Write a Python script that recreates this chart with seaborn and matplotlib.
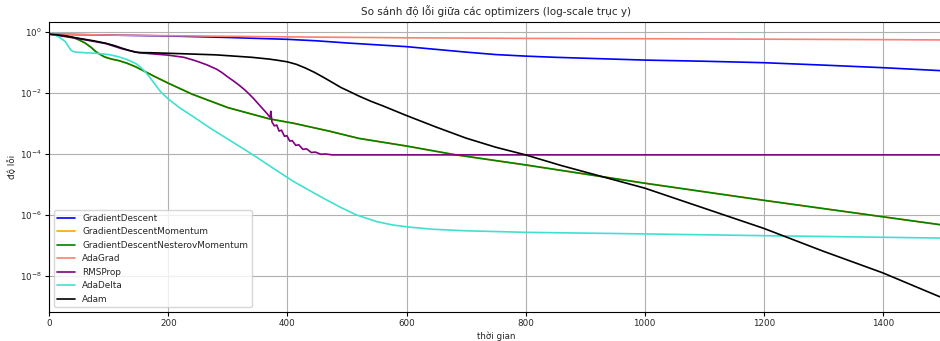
import numpy as np
import pandas as pd
import matplotlib
matplotlib.use("Agg")
import matplotlib.pyplot as plt
from matplotlib.ticker import NullLocator
import seaborn as sns

# Loss curves (error vs. time step) for each optimizer
gd_t = [0, 100, 200, 300, 350, 400, 450, 500, 550, 600, 650, 700, 750, 800, 850, 900,
        1000, 1100, 1200, 1300, 1400, 1500]
gd_loss = [0.851, 0.794, 0.741, 0.661, 0.617, 0.575, 0.513, 0.437, 0.380, 0.331, 0.269,
           0.219, 0.182, 0.162, 0.148, 0.138, 0.120, 0.110, 0.0985, 0.0822, 0.0676, 0.0537]

nesterov_t = [0, 20, 40, 50, 60, 70, 78, 85, 92, 98, 105, 110, 117, 130, 145, 160, 178,
              200, 240, 300, 370, 410, 470, 520, 600, 680, 800, 920, 1000, 1100, 1200,
              1300, 1400, 1500]
nesterov_loss = [0.851, 0.794, 0.661, 0.550, 0.437, 0.316, 0.229, 0.186, 0.155, 0.141,
                 0.129, 0.123, 0.115, 0.0955, 0.0724, 0.0513, 0.0339, 0.0209, 0.00912,
                 0.00331, 0.00141, 0.00102, 5.62e-4, 3.24e-4, 1.82e-4, 9.55e-5, 4.37e-5,
                 1.91e-5, 1.10e-5, 5.75e-6, 3.02e-6, 1.62e-6, 8.71e-7, 4.68e-7]

# Plain momentum follows the Nesterov curve
momentum_t = list(nesterov_t)
momentum_loss = list(nesterov_loss)

adagrad_t = [0, 100, 200, 400, 600, 800, 1000, 1200, 1400, 1500]
adagrad_loss = [0.851, 0.794, 0.759, 0.692, 0.646, 0.617, 0.603, 0.582, 0.562, 0.550]

rmsprop_t = [0, 50, 95, 122, 150, 175, 200, 226, 242, 254, 265, 281, 290, 298, 309, 318,
             326, 335, 343, 354, 365, 371, 372, 374, 378, 382, 386, 390, 395, 399, 404,
             408, 414, 419, 426, 432, 440, 447, 456, 464, 475, 500, 700, 1000, 1500]
rmsprop_loss = [0.851, 0.603, 0.417, 0.282, 0.209, 0.191, 0.174, 0.148, 0.120, 0.100,
                0.0832, 0.0603, 0.0468, 0.0355, 0.0251, 0.0186, 0.0138, 0.00955, 0.00661,
                0.00380, 0.00219, 0.00158, 0.00251, 0.00112, 8.32e-4, 8.91e-4, 5.62e-4,
                6.03e-4, 3.80e-4, 3.98e-4, 2.63e-4, 2.75e-4, 1.91e-4, 2.0e-4, 1.41e-4,
                1.48e-4, 1.12e-4, 1.15e-4, 9.77e-5, 1.0e-4, 9.33e-5, 9.33e-5, 9.33e-5,
                9.33e-5, 9.33e-5]

adadelta_t = [0, 8, 15, 22, 27, 32, 36, 40, 45, 60, 80, 100, 116, 130, 145, 153, 161, 168,
              175, 187, 200, 220, 242, 270, 298, 330, 354, 380, 410, 440, 466, 490, 516,
              550, 577, 605, 644, 700, 800, 957, 1200, 1500]
adadelta_loss = [0.851, 0.813, 0.708, 0.575, 0.479, 0.339, 0.257, 0.229, 0.219, 0.209,
                 0.200, 0.182, 0.155, 0.126, 0.0933, 0.0708, 0.0501, 0.0339, 0.0224,
                 0.0110, 0.00631, 0.00316, 0.00166, 7.08e-4, 3.24e-4, 1.32e-4, 6.61e-5,
                 3.02e-5, 1.26e-5, 5.89e-6, 3.09e-6, 1.74e-6, 1.0e-6, 6.03e-7, 4.68e-7,
                 3.98e-7, 3.39e-7, 3.02e-7, 2.69e-7, 2.45e-7, 2.09e-7, 1.74e-7]

adam_t = [0, 25, 50, 75, 95, 110, 122, 135, 145, 155, 170, 220, 280, 340, 370, 385, 400,
          415, 430, 445, 460, 475, 490, 505, 520, 540, 560, 600, 650, 700, 750, 800, 860,
          924, 1000, 1100, 1200, 1300, 1400, 1500]
adam_loss = [0.851, 0.759, 0.617, 0.513, 0.427, 0.355, 0.295, 0.245, 0.219, 0.211, 0.209,
             0.195, 0.178, 0.148, 0.129, 0.117, 0.105, 0.0871, 0.0661, 0.0479, 0.0331,
             0.0224, 0.0151, 0.0110, 0.00794, 0.00537, 0.00380, 0.00182, 7.59e-4, 3.31e-4,
             1.66e-4, 9.33e-5, 4.17e-5, 1.91e-5, 7.59e-6, 1.66e-6, 3.63e-7, 6.46e-8,
             1.26e-8, 1.91e-9]

names = ["GradientDescent", "GradientDescentMomentum", "GradientDescentNesterovMomentum",
         "AdaGrad", "RMSProp", "AdaDelta", "Adam"]
colors = ["blue", "orange", "green", "salmon", "purple", "turquoise", "black"]

series = [(gd_t, gd_loss), (momentum_t, momentum_loss), (nesterov_t, nesterov_loss),
          (adagrad_t, adagrad_loss), (rmsprop_t, rmsprop_loss),
          (adadelta_t, adadelta_loss), (adam_t, adam_loss)]

frames = []
for name, (t, loss) in zip(names, series):
    frames.append(pd.DataFrame({"t": t, "loss": loss, "optimizer": name}))
df = pd.concat(frames, ignore_index=True)

sns.set_style("white")
plt.rcParams["font.family"] = ["DejaVu Sans"]

fig = plt.figure(figsize=(9.4, 3.41), dpi=100)
ax = fig.add_axes([49.3 / 940, 1 - 311.7 / 341, (942.3 - 49.3) / 940, (311.7 - 22) / 341])

sns.lineplot(data=df, x="t", y="loss", hue="optimizer", hue_order=names,
             palette=dict(zip(names, colors)), estimator=None, sort=False,
             linewidth=1.2, ax=ax)

ax.set_yscale("log")
ax.set_xlim(0, 1500)
ax.set_ylim(6.7e-10, 2.13)
ax.set_yticks([1, 1e-2, 1e-4, 1e-6, 1e-8])
ax.yaxis.set_minor_locator(NullLocator())
ax.set_xticks([0, 200, 400, 600, 800, 1000, 1200, 1400])

ax.grid(True, color="#b0b0b0", linewidth=0.8)
for side in ["left", "bottom", "top", "right"]:
    ax.spines[side].set_color("black")
    ax.spines[side].set_linewidth(0.8)
ax.tick_params(axis="both", labelsize=6.3, length=3, width=0.8, color="black",
               pad=2.5, bottom=True, left=True)

ax.set_title("So sánh độ lỗi giữa các optimizers (log-scale trục y)", fontsize=7.5, pad=5)
ax.set_xlabel("thời gian", fontsize=6.3, labelpad=2)
ax.set_ylabel("độ lỗi", fontsize=6.3, labelpad=2)

ax.legend(loc="lower left", fontsize=6.4, frameon=True, handlelength=2,
          labelspacing=0.5, borderpad=0.4)

fig.savefig("out.png", dpi=100)
